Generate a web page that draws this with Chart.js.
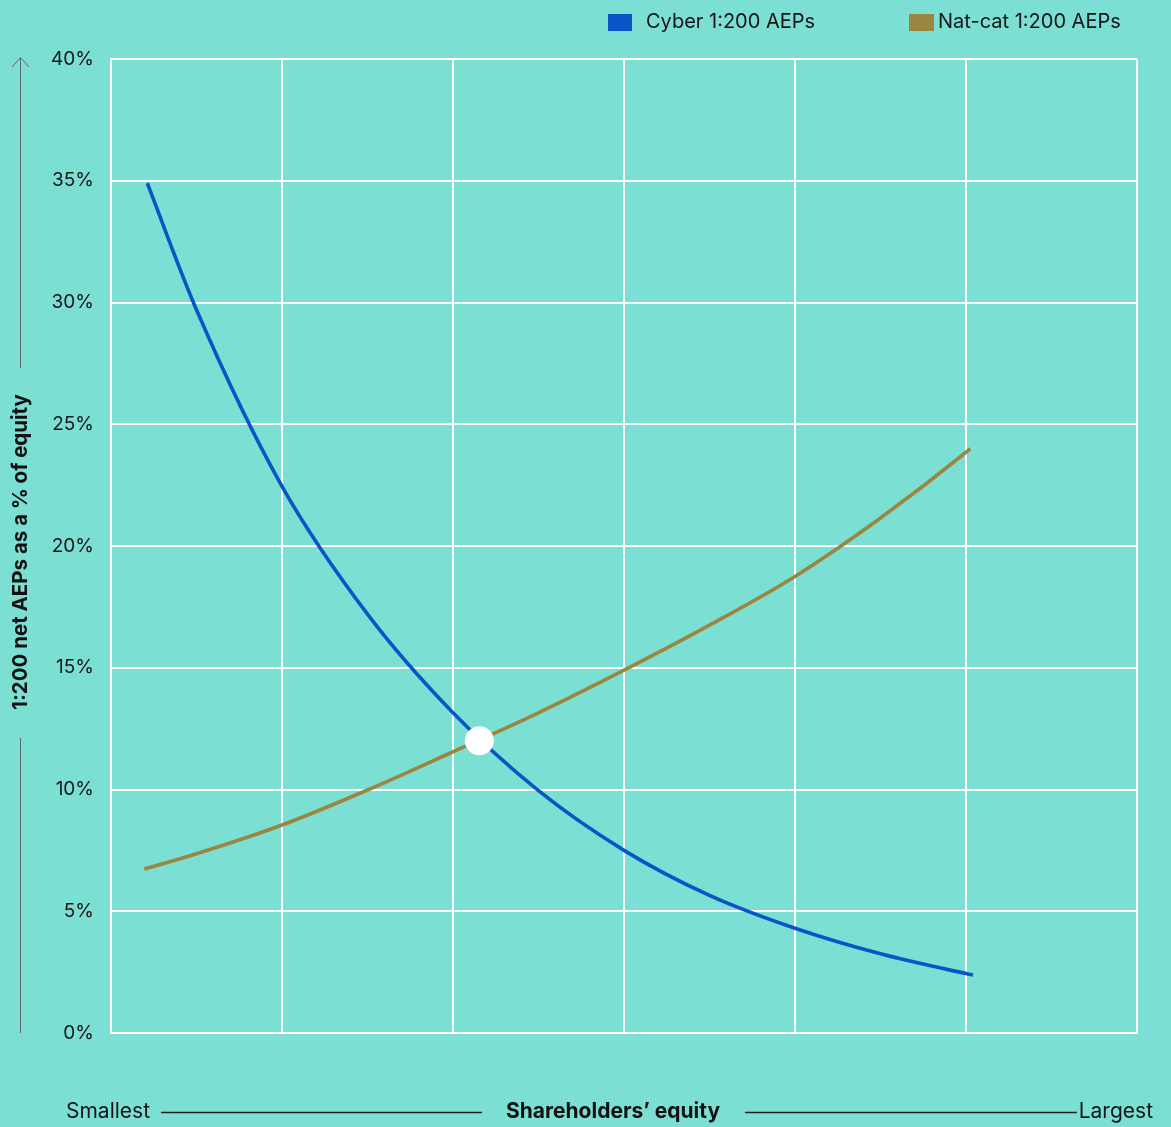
<!DOCTYPE html>
<html>
<head>
<meta charset="utf-8">
<script src="https://cdn.jsdelivr.net/npm/chart.js@4/dist/chart.umd.min.js"></script>
<style>
  html, body { margin: 0; padding: 0; background: #7be0d3; }
  #wrap { position: relative; width: 1171px; height: 1127px; }
</style>
</head>
<body>
<div id="wrap"><canvas id="c"></canvas></div>
<script>
// Relative size of shareholders' equity (0 = smallest, 6 = largest) vs 1:200 net AEP as % of equity
const seriesNames = ['Cyber 1:200 AEPs', 'Nat-cat 1:200 AEPs'];
const seriesColors = ['#0a55c6', '#9a8640'];

const cyberX = [0.212, 0.5, 1.0, 1.5, 2.0, 2.5, 3.0, 3.5, 4.0, 4.5, 5.0, 5.041];
const cyberY = [34.9, 29.7, 22.45, 17.2, 13.15, 9.95, 7.5, 5.65, 4.3, 3.25, 2.44, 2.38];

const natcatX = [0.195, 0.5, 1.0, 1.5, 2.0, 2.5, 3.0, 3.5, 4.0, 4.5, 5.0, 5.025];
const natcatY = [6.73, 7.36, 8.54, 9.98, 11.55, 13.15, 14.9, 16.75, 18.75, 21.15, 23.85, 24.0];

const crossingX = [2.154];
const crossingY = [12.0];

const yTickLabels = ['0%', '5%', '10%', '15%', '20%', '25%', '30%', '35%', '40%'];
const yTitle = '1:200 net AEPs as a % of equity';
const xTitle = 'Shareholders’ equity';
const xEndLabels = ['Smallest', 'Largest'];

const FONT = 'Inter, "Noto Sans", sans-serif';
const toPoints = (xs, ys) => xs.map((x, i) => ({ x, y: ys[i] }));

// Legend row, axis titles and the arrow guides are painted on the canvas
const decorations = {
  id: 'decorations',
  afterDraw(chart) {
    const ctx = chart.ctx;
    const area = chart.chartArea;
    ctx.save();

    // legend
    const legendItems = [
      { box: 608, w: 24, text: 646 },
      { box: 909, w: 25, text: 938 }
    ];
    ctx.font = '400 20px ' + FONT;
    ctx.textBaseline = 'middle';
    ctx.textAlign = 'left';
    legendItems.forEach((it, i) => {
      ctx.fillStyle = seriesColors[i];
      ctx.fillRect(it.box, 14, it.w, 17);
      ctx.fillStyle = '#151515';
      ctx.fillText(seriesNames[i], it.text, 22);
    });

    // vertical arrow guide with y title
    const ax = 20.5;
    ctx.strokeStyle = '#5e6b69';
    ctx.lineWidth = 1;
    ctx.beginPath();
    ctx.moveTo(ax, 58); ctx.lineTo(ax, 368);
    ctx.moveTo(ax, 738); ctx.lineTo(ax, area.bottom);
    ctx.moveTo(12, 67); ctx.lineTo(ax, 57.5); ctx.lineTo(29, 67);
    ctx.stroke();

    ctx.save();
    ctx.translate(21, 552);
    ctx.rotate(-Math.PI / 2);
    ctx.font = '700 20.5px ' + FONT;
    ctx.fillStyle = '#111';
    ctx.textAlign = 'center';
    ctx.textBaseline = 'middle';
    ctx.fillText(yTitle, 0, 0);
    ctx.restore();

    // horizontal guide with x title
    const by = 1112;
    ctx.font = '400 21px ' + FONT;
    ctx.fillStyle = '#151515';
    ctx.textBaseline = 'middle';
    ctx.textAlign = 'left';
    ctx.fillText(xEndLabels[0], 66, by);
    ctx.textAlign = 'right';
    ctx.fillText(xEndLabels[1], 1153, by);
    ctx.font = '700 21px ' + FONT;
    ctx.textAlign = 'center';
    ctx.fillStyle = '#111';
    ctx.fillText(xTitle, 613, by);

    ctx.strokeStyle = '#1e1e1e';
    ctx.lineWidth = 1.3;
    ctx.beginPath();
    ctx.moveTo(161, by + 0.5); ctx.lineTo(482, by + 0.5);
    ctx.moveTo(745, by + 0.5); ctx.lineTo(1077, by + 0.5);
    ctx.stroke();

    ctx.restore();
  }
};

new Chart(document.getElementById('c'), {
  type: 'scatter',
  data: {
    datasets: [
      {
        label: 'crossing',
        data: toPoints(crossingX, crossingY),
        pointRadius: 14.5,
        pointHoverRadius: 14.5,
        pointBackgroundColor: '#ffffff',
        pointBorderWidth: 0,
        showLine: false,
        order: 0
      },
      {
        label: seriesNames[0],
        data: toPoints(cyberX, cyberY),
        showLine: true,
        borderColor: seriesColors[0],
        borderWidth: 3.6,
        pointRadius: 0,
        cubicInterpolationMode: 'monotone',
        order: 2
      },
      {
        label: seriesNames[1],
        data: toPoints(natcatX, natcatY),
        showLine: true,
        borderColor: seriesColors[1],
        borderWidth: 3.6,
        pointRadius: 0,
        cubicInterpolationMode: 'monotone',
        order: 1
      }
    ]
  },
  options: {
    responsive: true,
    maintainAspectRatio: false,
    animation: false,
    layout: { padding: { left: 0, top: 59, right: 34, bottom: 94 } },
    plugins: { legend: { display: false }, tooltip: { enabled: false } },
    scales: {
      x: {
        type: 'linear',
        min: 0, max: 6,
        ticks: { display: false, stepSize: 1 },
        grid: { color: '#ffffff', lineWidth: 2, drawTicks: false },
        border: { display: true, color: '#ffffff', width: 2 },
        afterFit: s => { s.height = 0; }
      },
      y: {
        type: 'linear',
        min: 0, max: 40,
        ticks: {
          stepSize: 5,
          padding: 17,
          color: '#151515',
          font: { family: FONT, size: 19 },
          callback: (v) => yTickLabels[Math.round(v / 5)]
        },
        grid: { color: '#ffffff', lineWidth: 2, drawTicks: false },
        border: { display: true, color: '#ffffff', width: 2 },
        afterFit: s => { s.width = 111; }
      }
    }
  },
  plugins: [decorations]
});
</script>
</body>
</html>
